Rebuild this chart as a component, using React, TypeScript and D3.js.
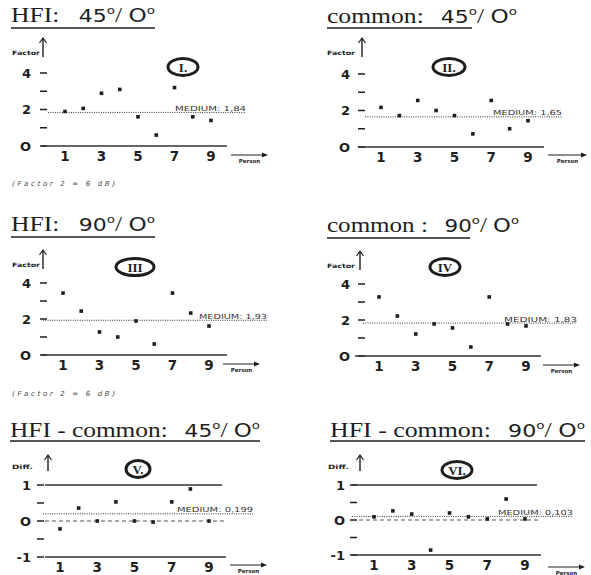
import * as d3 from 'd3'

// persons 1..9 on the x axis
const persons = [1, 2, 3, 4, 5, 6, 7, 8, 9]
const personTicks = [1, 3, 5, 7, 9]

// factor values
const hfi45 = [1.89, 2.06, 2.89, 3.1, 1.6, 0.6, 3.2, 1.6, 1.4]
const common45 = [2.17, 1.72, 2.55, 2.0, 1.72, 0.72, 2.55, 1.0, 1.44]
const hfi90 = [3.44, 2.44, 1.28, 1.0, 1.89, 0.61, 3.44, 2.33, 1.61]
const common90 = [3.28, 2.22, 1.22, 1.78, 1.56, 0.5, 3.28, 1.78, 1.67]
// differences HFI - common
const diff45 = [-0.22, 0.36, 0.0, 0.53, 0.0, -0.03, 0.53, 0.89, 0.0]
const diff90 = [0.09, 0.26, 0.17, -0.86, 0.2, 0.09, 0.03, 0.6, 0.03]

const mediums = [1.84, 1.65, 1.93, 1.83, 0.199, 0.103]
const mediumLabels = ['1,84', '1,65', '1,93', '1,83', '0,199', '0,103']
const numerals = ['I.', 'II.', 'III', 'IV', 'V.', 'VI.']
const titleWords = ['HFI:', 'common:', 'HFI:', 'common :', 'HFI - common:', 'HFI - common:']
const angles = ['45', '45', '90', '90', '45', '90']

const factorTicks = [0, 2, 4]
const factorTickLabels = ['O', '2', '4']
const factorMinor = [1, 3]
const diffTicks = [-1, 0, 1]
const diffTickLabels = ['-1', 'O', '1']
const diffMinor = [-0.5, 0.5]

const INK = '#1e1e1e'

type Layout = {
  titleX: number
  titleY: number
  titleW: number
  gap: number
  ulX2: number
  ulY: number
  xRange: [number, number]
  yRange: [number, number]
  tickX: number
  labelEnd: number
  lineX1: number
  lineX2: number
  medX1: number
  medX2: number
  medW: number
  arrowX: number
  arrowTop: number
  arrowBot: number
  yLabX: number
  yLabW: number
  pX1: number
  pX2: number
  pY: number
  cx: number
  cy: number
  rx: number
}

const layouts: Layout[] = [
  { titleX: 11, titleY: 22, titleW: 144, gap: 16, ulX2: 155, ulY: 28, xRange: [65, 211], yRange: [146, 73], tickX: 40, labelEnd: 31, lineX1: 42, lineX2: 227, medX1: 48, medX2: 246, medW: 71, arrowX: 43, arrowTop: 38, arrowBot: 57, yLabX: 12, yLabW: 28, pX1: 231, pX2: 268, pY: 155, cx: 183, cy: 67, rx: 15 },
  { titleX: 327, titleY: 23, titleW: 190, gap: 14, ulX2: 472, ulY: 28, xRange: [381, 528], yRange: [147, 74], tickX: 358, labelEnd: 350, lineX1: 358, lineX2: 544, medX1: 365, medX2: 562, medW: 69, arrowX: 362, arrowTop: 38, arrowBot: 57, yLabX: 327, yLabW: 28, pX1: 548, pX2: 587, pY: 155, cx: 449, cy: 67, rx: 16 },
  { titleX: 11, titleY: 231, titleW: 144, gap: 16, ulX2: 155, ulY: 237, xRange: [63, 209], yRange: [355, 283], tickX: 40, labelEnd: 31, lineX1: 42, lineX2: 227, medX1: 43, medX2: 267, medW: 68, arrowX: 43, arrowTop: 250, arrowBot: 269, yLabX: 12, yLabW: 28, pX1: 223, pX2: 260, pY: 364, cx: 135, cy: 267, rx: 19 },
  { titleX: 327, titleY: 232, titleW: 192, gap: 14, ulX2: 470, ulY: 238, xRange: [379, 526], yRange: [356, 284], tickX: 358, labelEnd: 350, lineX1: 355, lineX2: 541, medX1: 363, medX2: 577, medW: 73, arrowX: 360, arrowTop: 251, arrowBot: 270, yLabX: 327, yLabW: 28, pX1: 543, pX2: 580, pY: 365, cx: 445, cy: 267, rx: 15 },
  { titleX: 10, titleY: 437, titleW: 250, gap: 14, ulX2: 260, ulY: 441, xRange: [60, 209], yRange: [557, 485], tickX: 37, labelEnd: 31, lineX1: 45, lineX2: 222, medX1: 43, medX2: 253, medW: 76, arrowX: 48, arrowTop: 455, arrowBot: 471, yLabX: 12, yLabW: 21, pX1: 230, pX2: 267, pY: 565, cx: 138, cy: 469, rx: 12 },
  { titleX: 330, titleY: 437, titleW: 255, gap: 14, ulX2: 585, ulY: 441, xRange: [374, 525], yRange: [555, 485], tickX: 350, labelEnd: 345, lineX1: 352, lineX2: 537, medX1: 352, medX2: 573, medW: 75, arrowX: 360, arrowTop: 455, arrowBot: 471, yLabX: 328, yLabW: 21, pX1: 548, pX2: 585, pY: 567, cx: 457, cy: 470, rx: 15 },
]

const seriesList = [hfi45, common45, hfi90, common90, diff45, diff90]

function Panel({ i }: { i: number }) {
  const L = layouts[i]
  const values = seriesList[i]
  const isDiff = i >= 4
  const yDomain = isDiff ? [-1, 1] : [0, 4]
  const ticks = isDiff ? diffTicks : factorTicks
  const tickLabels = isDiff ? diffTickLabels : factorTickLabels
  const minor = isDiff ? diffMinor : factorMinor

  const x = d3.scaleLinear().domain([1, 9]).range(L.xRange)
  const y = d3.scaleLinear().domain(yDomain).range(L.yRange)
  const medY = y(mediums[i])

  return (
    <g>
      {/* title */}
      <text
        x={L.titleX}
        y={L.titleY}
        fontFamily="'Liberation Serif', serif"
        fontSize={21}
        fill={INK}
        textLength={L.titleW}
        lengthAdjust="spacingAndGlyphs"
      >
        {titleWords[i]}
        <tspan dx={L.gap} fontFamily="'DejaVu Sans', sans-serif" fontSize={18}>{angles[i]}</tspan>
        <tspan fontSize={11} dy={-8} fontFamily="'DejaVu Sans', sans-serif">o</tspan>
        <tspan dy={8}>/ </tspan>
        <tspan fontFamily="'DejaVu Sans', sans-serif" fontSize={19}>O</tspan>
        <tspan fontSize={11} dy={-8} fontFamily="'DejaVu Sans', sans-serif">o</tspan>
      </text>
      <line x1={L.titleX} x2={L.ulX2} y1={L.ulY} y2={L.ulY} stroke={INK} strokeWidth={1.6} />

      {/* y label + arrow */}
      <text x={L.yLabX} y={L.arrowBot - 2} fontFamily="'DejaVu Sans', sans-serif" fontSize={6} fontWeight="bold" fill={INK} textLength={L.yLabW} lengthAdjust="spacingAndGlyphs">
        {isDiff ? 'Diff.' : 'Factor'}
      </text>
      <line x1={L.arrowX} x2={L.arrowX} y1={L.arrowBot} y2={L.arrowTop} stroke={INK} strokeWidth={1.4} />
      <path d={`M${L.arrowX - 3.5},${L.arrowTop + 5} L${L.arrowX},${L.arrowTop} L${L.arrowX + 3.5},${L.arrowTop + 5}`} fill="none" stroke={INK} strokeWidth={1.2} />

      {/* y ticks */}
      {ticks.map((t, k) => (
        <g key={'t' + t}>
          <text x={L.labelEnd} y={y(t) + 4.5} textAnchor="end" fontFamily="'DejaVu Sans', sans-serif" fontWeight="bold" fontSize={13} fill={INK}>
            {tickLabels[k]}
          </text>
          <line x1={L.tickX} x2={L.tickX + 7} y1={y(t)} y2={y(t)} stroke={INK} strokeWidth={1.5} />
        </g>
      ))}
      {minor.map((t) => (
        <line key={'m' + t} x1={L.tickX} x2={L.tickX + 7} y1={y(t)} y2={y(t)} stroke={INK} strokeWidth={1.5} />
      ))}

      {/* reference lines */}
      {isDiff ? (
        <g>
          <line x1={L.lineX1} x2={L.lineX2} y1={y(1)} y2={y(1)} stroke="#333" strokeWidth={1.3} />
          <line x1={L.lineX1} x2={L.lineX2 + 4} y1={y(-1)} y2={y(-1)} stroke="#333" strokeWidth={1.3} />
          <line x1={L.lineX1} x2={L.lineX2 + 3} y1={y(0)} y2={y(0)} stroke="#555" strokeWidth={1} strokeDasharray="4 3" />
        </g>
      ) : (
        <line x1={L.lineX1} x2={L.lineX2} y1={y(0)} y2={y(0)} stroke="#333" strokeWidth={1.6} />
      )}

      {/* medium */}
      <line x1={L.medX1} x2={L.medX2} y1={medY} y2={medY} stroke="#333" strokeWidth={1} strokeDasharray="1 1.3" />
      <text x={L.medX2 - L.medW} y={medY - 1.5} fontFamily="'DejaVu Sans', sans-serif" fontSize={7} fill="#333" textLength={L.medW} lengthAdjust="spacingAndGlyphs">
        {`MEDIUM:   ${mediumLabels[i]}`}
      </text>

      {/* points */}
      {persons.map((p, k) => (
        <rect key={'p' + p} x={x(p) - 1.8} y={y(values[k]) - 1.8} width={3.6} height={3.6} fill={INK} />
      ))}

      {/* x tick labels */}
      {personTicks.map((p) => (
        <text key={'x' + p} x={x(p)} y={y(yDomain[0]) + 15} textAnchor="middle" fontFamily="'DejaVu Sans', sans-serif" fontWeight="bold" fontSize={13.5} fill={INK}>
          {p}
        </text>
      ))}

      {/* person arrow */}
      <line x1={L.pX1} x2={L.pX2 - 4} y1={L.pY} y2={L.pY} stroke={INK} strokeWidth={1} />
      <path d={`M${L.pX2 - 6},${L.pY - 2.5} L${L.pX2},${L.pY} L${L.pX2 - 6},${L.pY + 2.5} Z`} fill={INK} />
      <text x={(L.pX1 + L.pX2) / 2} y={L.pY + 8} textAnchor="middle" fontFamily="'DejaVu Sans', sans-serif" fontWeight="bold" fontSize={5.5} fill={INK}>
        Person
      </text>

      {/* numeral badge */}
      <ellipse cx={L.cx} cy={L.cy} rx={L.rx} ry={8.5} fill="none" stroke={INK} strokeWidth={3} />
      <text x={L.cx} y={L.cy + 4.5} textAnchor="middle" fontFamily="'Liberation Serif', serif" fontWeight="bold" fontSize={13} fill={INK}>
        {numerals[i]}
      </text>
    </g>
  )
}

export default function App() {
  return (
    <svg width={591} height={575} style={{ position: 'absolute', left: 0, top: 0, background: '#fff' }}>
      {layouts.map((_, i) => (
        <Panel key={i} i={i} />
      ))}
      <text x={12} y={186} fontFamily="'DejaVu Sans', sans-serif" fontStyle="italic" fontSize={7} fill="#444" textLength={103} lengthAdjust="spacing">
        (Factor 2 = 6 dB)
      </text>
      <text x={12} y={396} fontFamily="'DejaVu Sans', sans-serif" fontStyle="italic" fontSize={7} fill="#444" textLength={103} lengthAdjust="spacing">
        (Factor 2 = 6 dB)
      </text>
    </svg>
  )
}
